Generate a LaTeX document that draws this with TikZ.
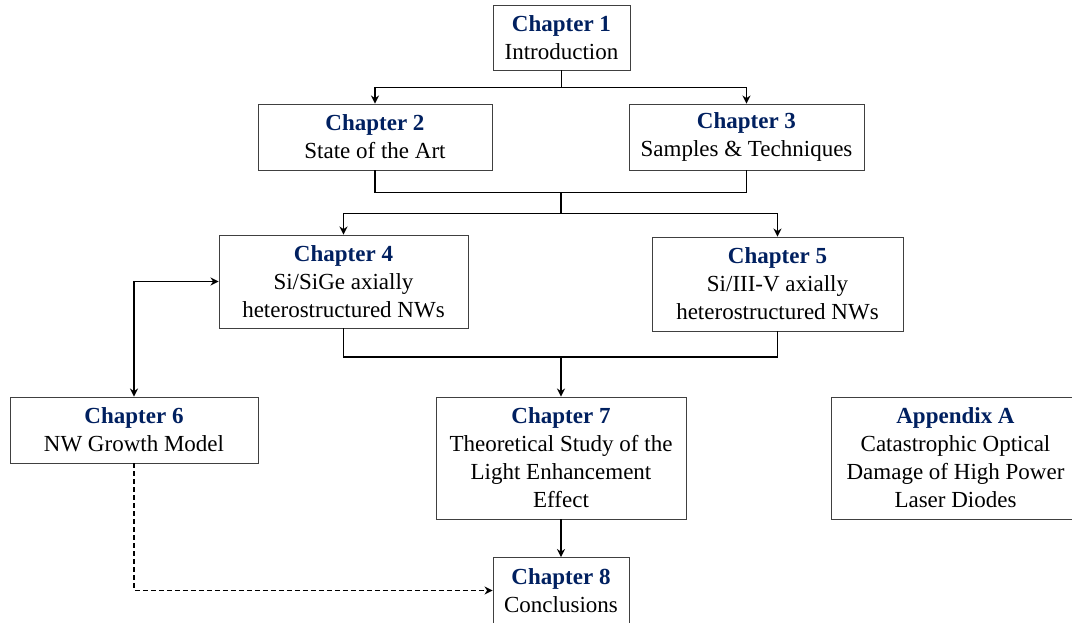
\documentclass[tikz,border=0pt]{standalone}
\usepackage{fontspec}
\setmainfont{Liberation Serif}
\usepackage{tikz}
\usetikzlibrary{arrows.meta,positioning,calc}
\definecolor{chapblue}{RGB}{0,32,96}
\newcommand{\chaptitle}[1]{\textcolor{chapblue}{\textbf{#1}}}
\tikzset{chap box/.style={rectangle,draw=black!75,line width=0.9pt,fill=white,align=center,inner sep=0pt,
                          font=\fontsize{23}{28}\selectfont},
         link/.style={black,line width=1.5pt},
         weak link/.style={black,line width=1.3pt,dash pattern=on 5pt off 3pt},
}

\begin{document}
\begin{tikzpicture}[x=1pt,y=-1pt,>={Stealth[length=8pt,width=8pt]}]
\useasboundingbox (0,0) rectangle (1072,623);
\clip (0,0) rectangle (1072,623);
% chapters
\node[chap box,minimum width=137pt,minimum height=65pt] (ch1) at (561.5,37.5) {\chaptitle{Chapter 1}\\Introduction};
\node[chap box,minimum width=234pt,minimum height=66pt] (ch2) at (375,137) {\chaptitle{Chapter 2}\\State of the Art};
\node[chap box,minimum width=235pt,minimum height=66pt] (ch3) at (746.5,137) {\chaptitle{Chapter 3}\\Samples \& Techniques};
\node[chap box,minimum width=249pt,minimum height=93pt] (ch4) at (343.5,281.5) {\chaptitle{Chapter 4}\\Si/SiGe axially\\heterostructured NWs};
\node[chap box,minimum width=251pt,minimum height=94pt] (ch5) at (777.5,284) {\chaptitle{Chapter 5}\\Si/III-V axially\\heterostructured NWs};
\node[chap box,minimum width=248pt,minimum height=66pt] (ch6) at (134,430) {\chaptitle{Chapter 6}\\NW Growth Model};
\node[chap box,minimum width=250pt,minimum height=122pt] (ch7) at (561,458) {\chaptitle{Chapter 7}\\Theoretical Study of the\\Light Enhancement\\Effect};
\node[chap box,minimum width=249pt,minimum height=122pt] (appA) at (955.5,458) {\chaptitle{Appendix A}\\Catastrophic Optical\\Damage of High Power\\Laser Diodes};
\node[chap box,minimum width=136pt,minimum height=66pt] (ch8) at (561,590.5) {\chaptitle{Chapter 8}\\Conclusions};

% tree links
\draw[link,->] (ch1.south) -- ++(0,17) -| (ch2.north);
\draw[link,->] (ch1.south) -- ++(0,17) -| (ch3.north);
\draw[link] (ch2.south) -- ++(0,22) -| (ch3.south);
\coordinate (j2) at ($(ch2.south)!0.5!(ch3.south)+(0,22)$);
\draw[link,->] (j2) -- ++(0,21) -| (ch4.north);
\draw[link,->] (j2) -- ++(0,21) -| (ch5.north);
\coordinate (j3) at (561,357);
\draw[link] (ch4.south) |- (j3) -| (ch5.south);
\draw[link,->] (j3) -- (ch7.north);
\draw[link,->] (ch7.south) -- (ch8.north);
\draw[link,<->] (ch6.north) |- (ch4.west);
\draw[weak link,->] (ch6.south) |- (ch8.west);

\end{tikzpicture}
\end{document}
